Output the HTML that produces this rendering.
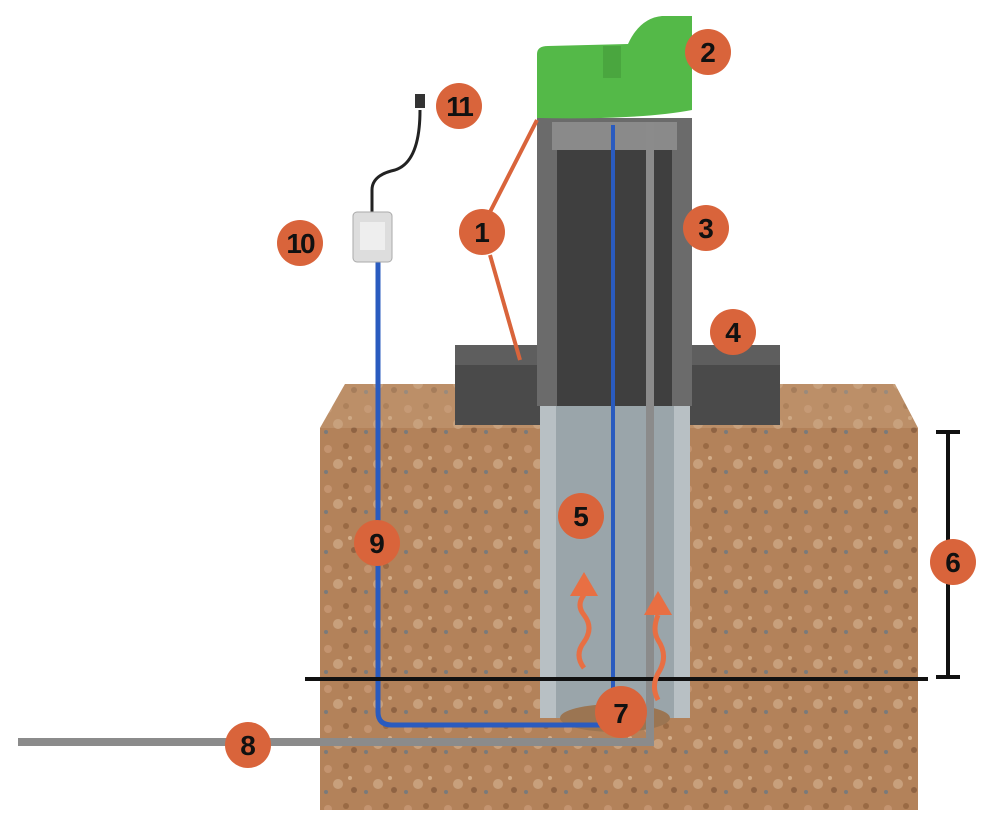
<!DOCTYPE html>
<html><head><meta charset="utf-8"><style>html,body{margin:0;padding:0;background:#fff}svg{display:block}text{font-family:"Liberation Sans",sans-serif;font-weight:bold;fill:#111}</style></head><body>
<svg width="1000" height="832" viewBox="0 0 1000 832" xmlns="http://www.w3.org/2000/svg">
<defs>
<pattern id="soil" width="40" height="40" patternUnits="userSpaceOnUse">
<rect width="40" height="40" fill="#b3825a"/>
<circle cx="8" cy="9" r="4" fill="#c49470"/><circle cx="26" cy="6" r="3" fill="#9a6a44"/>
<circle cx="18" cy="24" r="5" fill="#c8a07c"/><circle cx="34" cy="30" r="3" fill="#8f6343"/>
<circle cx="6" cy="32" r="2" fill="#7a7a7a"/><circle cx="30" cy="18" r="2" fill="#d2ad8a"/>
</pattern>
</defs>
<polygon points="345,384 895,384 918,428 320,428" fill="#c9a37e"/>
<polygon points="345,384 895,384 918,428 320,428" fill="url(#soil)" opacity="0.6"/>
<rect x="320" y="428" width="598" height="382" fill="url(#soil)"/>
<rect x="455" y="345" width="85" height="80" fill="#4a4a4a"/>
<rect x="455" y="345" width="85" height="20" fill="#5e5e5e"/>
<rect x="690" y="345" width="90" height="80" fill="#4a4a4a"/>
<rect x="690" y="345" width="90" height="20" fill="#5e5e5e"/>
<rect x="540" y="400" width="150" height="318" fill="#b8c0c4"/>
<rect x="556" y="400" width="118" height="318" fill="#9aa5aa"/>
<ellipse cx="615" cy="718" rx="55" ry="14" fill="#9b7552"/>
<rect x="537" y="118" width="155" height="288" fill="#6b6b6b"/>
<rect x="557" y="148" width="115" height="258" fill="#3f3f3f"/>
<rect x="552" y="122" width="125" height="28" fill="#8a8a8a"/>
<path d="M537,118 L537,54 Q537,46 548,46 L628,44 Q640,18 662,16 L692,16 L692,110 Q640,120 537,118 Z" fill="#54b948"/>
<rect x="603" y="46" width="18" height="32" fill="#4aa63f"/>
<rect x="646" y="122" width="8" height="622" fill="#8b8b8b"/>
<rect x="18" y="738" width="636" height="8" fill="#8b8b8b"/>
<line x1="613" y1="125" x2="613" y2="690" stroke="#2a5bbf" stroke-width="4"/>
<path d="M378,255 L378,712 Q378,725 392,725 L605,725" stroke="#2a5bbf" stroke-width="5" fill="none"/>
<path d="M372,214 L372,190 Q372,175 395,170 Q420,162 420,110" stroke="#222" stroke-width="3" fill="none"/>
<rect x="415" y="94" width="10" height="14" fill="#333"/>
<rect x="353" y="212" width="39" height="50" rx="4" fill="#ddd" stroke="#aaa"/>
<rect x="360" y="222" width="25" height="28" fill="#eee"/>
<line x1="305" y1="679" x2="928" y2="679" stroke="#111" stroke-width="4"/>
<line x1="948" y1="432" x2="948" y2="677" stroke="#111" stroke-width="4"/>
<line x1="936" y1="432" x2="960" y2="432" stroke="#111" stroke-width="4"/>
<line x1="936" y1="677" x2="960" y2="677" stroke="#111" stroke-width="4"/>
<g fill="none" stroke="#e86f43" stroke-width="5">
<path d="M584,668 Q574,655 584,642 Q594,628 584,615 Q576,605 584,595"/>
<path d="M658,700 Q650,685 660,670 Q668,655 658,640 Q652,630 658,615"/>
</g>
<polygon points="584,572 598,596 570,596" fill="#e86f43"/>
<polygon points="658,591 672,615 644,615" fill="#e86f43"/>
<path d="M537,120 L490,212 M490,255 L520,360" stroke="#d9643b" stroke-width="4" fill="none"/>
<g fill="#d9643b">
<circle cx="482" cy="232" r="23"/><circle cx="708" cy="52" r="23"/><circle cx="706" cy="228" r="23"/>
<circle cx="733" cy="332" r="23"/><circle cx="581" cy="516" r="23"/><circle cx="953" cy="562" r="23"/>
<circle cx="621" cy="712" r="26"/><circle cx="248" cy="745" r="23"/><circle cx="377" cy="543" r="23"/>
<circle cx="300" cy="243" r="23"/><circle cx="459" cy="106" r="23"/>
</g>
<g font-size="28" text-anchor="middle">
<text x="482" y="242">1</text><text x="708" y="62">2</text><text x="706" y="238">3</text>
<text x="733" y="342">4</text><text x="581" y="526">5</text><text x="953" y="572">6</text>
<text x="621" y="723">7</text><text x="248" y="755">8</text><text x="377" y="553">9</text>
<text x="300" y="253" letter-spacing="-2">10</text><text x="459" y="116" letter-spacing="-2">11</text>
</g>
</svg>
</body></html>
